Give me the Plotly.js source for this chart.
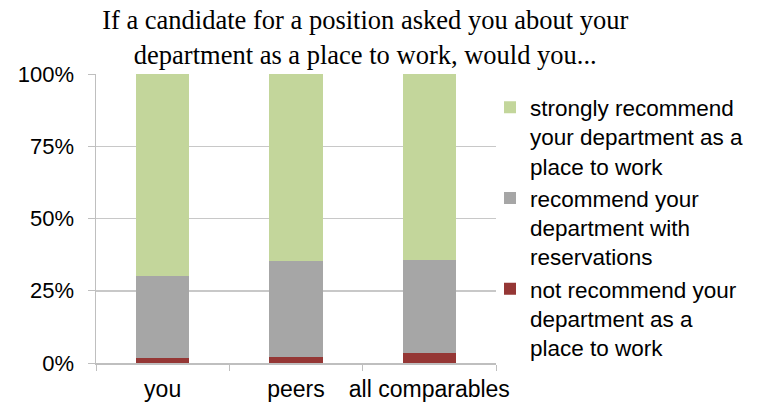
<!DOCTYPE html>
<html>
<head>
<meta charset="utf-8">
<script src="https://cdn.plot.ly/plotly-3.0.1.min.js"></script>
<style>html,body{margin:0;padding:0;background:#fff;}#chart{width:761px;height:406px;}</style>
</head>
<body>
<div id="chart"></div>
<script>
var categories = ["you", "peers", "all comparables"];
var notRecommend = [1.7, 2.2, 3.5];
var withReservations = [28.5, 33.1, 32.2];
var stronglyRecommend = [69.8, 64.7, 64.3];
var seriesNames = [
  "not recommend your<br>department as a<br>place to work",
  "recommend your<br>department with<br>reservations",
  "strongly recommend<br>your department as a<br>place to work"
];
var seriesColors = ["#953735", "#A6A6A6", "#C3D69B"];
var yTickVals = [0, 25, 50, 75, 100];
var yTickText = ["0%", "25%", "50%", "75%", "100%"];

var seriesValues = [notRecommend, withReservations, stronglyRecommend];
var traces = seriesValues.map(function (vals, i) {
  return {
    type: "bar",
    x: categories,
    y: vals,
    name: seriesNames[i],
    marker: { color: seriesColors[i], line: { width: 0 } },
    hoverinfo: "skip"
  };
});

var layout = {
  width: 761,
  height: 406,
  barmode: "stack",
  bargap: 0.6,
  paper_bgcolor: "#ffffff",
  plot_bgcolor: "#ffffff",
  margin: { l: 96, r: 260, t: 74, b: 43 },
  title: {
    text: "If a candidate for a position asked you about your<br>department as a place to work, would you...",
    font: { family: "Liberation Serif, serif", size: 26.5, color: "#000000" },
    x: 0.48,
    xanchor: "center",
    y: 0.928,
    yanchor: "top",
    yref: "container"
  },
  xaxis: {
    type: "category",
    tickson: "boundaries",
    ticks: "outside",
    ticklen: 6,
    tickcolor: "#BFBFBF",
    tickangle: 0,
    automargin: false,
    showline: true,
    linecolor: "#BFBFBF",
    linewidth: 1.5,
    showgrid: false,
    ticklabelstandoff: 5,
    tickfont: { family: "Liberation Sans, Arial, sans-serif", size: 23, color: "#000000" },
    fixedrange: true
  },
  yaxis: {
    range: [0, 100],
    tickvals: yTickVals,
    ticktext: yTickText,
    ticks: "outside",
    ticklen: 7,
    tickcolor: "#BFBFBF",
    showline: true,
    linecolor: "#BFBFBF",
    linewidth: 1.5,
    showgrid: true,
    gridcolor: "#C8C8C8",
    gridwidth: 1.5,
    zeroline: false,
    automargin: false,
    tickfont: { family: "Liberation Sans, Arial, sans-serif", size: 22, color: "#000000" },
    ticklabelstandoff: 9,
    fixedrange: true
  },
  showlegend: true,
  legend: {
    x: 0.985,
    xanchor: "left",
    y: 0.958,
    yanchor: "top",
    traceorder: "reversed",
    valign: "top",
    font: { family: "Liberation Sans, Arial, sans-serif", size: 22.5, color: "#000000" },
    itemwidth: 30,
    bgcolor: "rgba(0,0,0,0)"
  }
};

Plotly.newPlot("chart", traces, layout, { displayModeBar: false, staticPlot: true });
</script>
</body>
</html>
